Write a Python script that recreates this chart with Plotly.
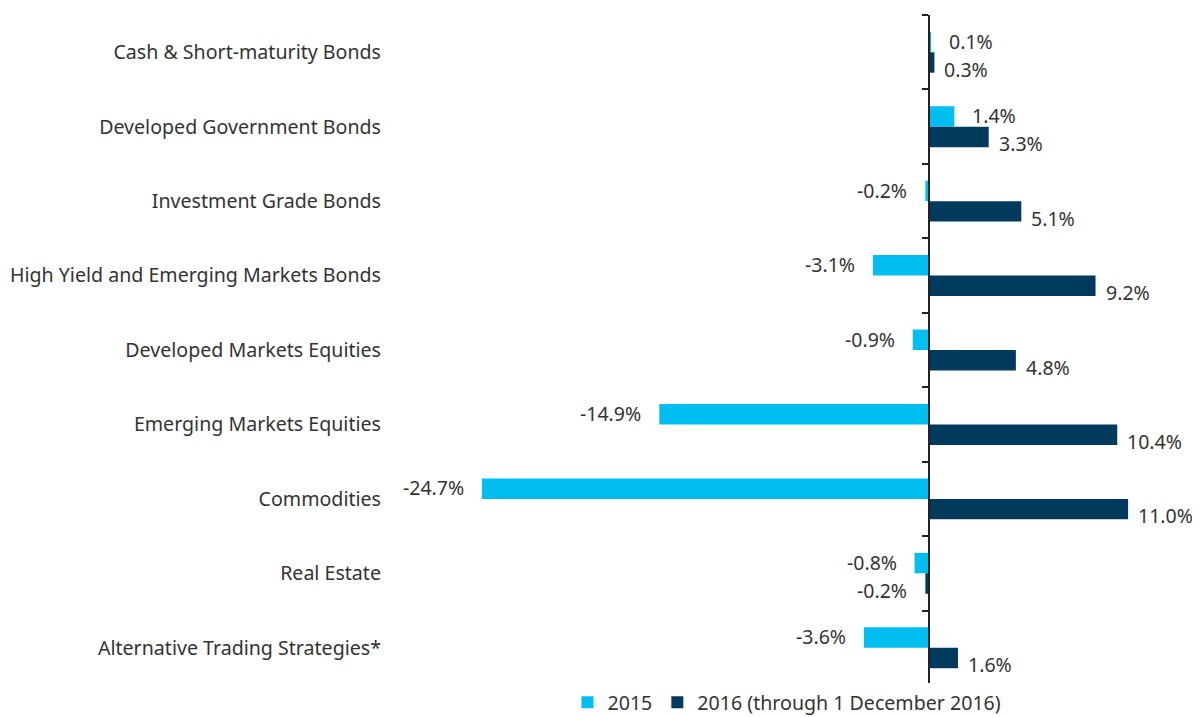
import plotly.graph_objects as go

categories = [
    "Cash & Short-maturity Bonds",
    "Developed Government Bonds",
    "Investment Grade Bonds",
    "High Yield and Emerging Markets Bonds",
    "Developed Markets Equities",
    "Emerging Markets Equities",
    "Commodities",
    "Real Estate",
    "Alternative Trading Strategies*",
]
values_2015 = [0.1, 1.4, -0.2, -3.1, -0.9, -14.9, -24.7, -0.8, -3.6]
values_2016 = [0.3, 3.3, 5.1, 9.2, 4.8, 10.4, 11.0, -0.2, 1.6]
series_names = ["2015", "2016 (through 1 December 2016)"]

LIGHT = "#00BEF0"
DARK = "#003A5C"
TEXT = "#333333"
FONT = "Noto Sans"

# page body has an 8px margin, so the figure is drawn from (8, 8)
OFF = 8
W, H = 1200 - 2 * OFF, 717 - OFF
ML, MR, MT = 382 - OFF, 0, 15 - OFF
MB = H - (685 - OFF)
px_per_pct = 18.1
zero_px = 929 - OFF
xmin = -(zero_px - ML) / px_per_pct
xmax = xmin + (W - ML - MR) / px_per_pct
zero_frac = (0 - xmin) / (xmax - xmin)
plot_h = H - MT - MB

fig = go.Figure()
fig.add_trace(go.Bar(y=categories, x=values_2015, name=series_names[0], orientation="h",
                     marker=dict(color=LIGHT, line=dict(width=0))))
fig.add_trace(go.Bar(y=categories, x=values_2016, name=series_names[1], orientation="h",
                     marker=dict(color=DARK, line=dict(width=0))))
# invisible trace to carry the axis line/ticks at zero
fig.add_trace(go.Scatter(y=categories, x=[0] * len(categories), yaxis="y2", mode="markers",
                         marker=dict(opacity=0), showlegend=False, hoverinfo="skip"))

LBL = 19.5
annotations = []
for cat, v in zip(categories, values_2015):
    annotations.append(dict(x=v, y=cat, text=f"{v:.1f}%", showarrow=False,
                            xanchor="left" if v >= 0 else "right",
                            xshift=16 if v >= 0 else -16, yshift=11,
                            font=dict(size=LBL, color=TEXT, family=FONT)))
for cat, v in zip(categories, values_2016):
    annotations.append(dict(x=v, y=cat, text=f"{v:.1f}%", showarrow=False,
                            xanchor="left" if v >= 0 else "right",
                            xshift=8 if v >= 0 else -16, yshift=-17,
                            font=dict(size=LBL, color=TEXT, family=FONT)))

fig.update_layout(
    width=W, height=H,
    margin=dict(l=ML, r=MR, t=MT, b=MB, autoexpand=False),
    paper_bgcolor="white", plot_bgcolor="white",
    barmode="group", bargap=0.45, bargroupgap=0,
    font=dict(family=FONT, size=19.6, color=TEXT),
    xaxis=dict(range=[xmin, xmax], visible=False, fixedrange=True),
    yaxis=dict(type="category", autorange="reversed", showline=False, ticks="",
               showgrid=False, zeroline=False, tickfont=dict(size=19.6, color=TEXT, family=FONT),
               ticklabelstandoff=0),
    yaxis2=dict(type="category", overlaying="y", matches="y", anchor="free", position=zero_frac,
                side="left", showline=True, linecolor="#222222", linewidth=2,
                ticks="outside", ticklen=6, tickwidth=2, tickcolor="#222222",
                tickson="boundaries", showticklabels=False, showgrid=False),
    legend=dict(orientation="h", x=0.5, xanchor="center", y=-(MB + 5) / plot_h, yanchor="bottom",
                font=dict(size=19.6, color=TEXT, family=FONT), itemwidth=30,
                traceorder="normal"),
    annotations=annotations,
    showlegend=True,
)

fig.write_html("out.html")
